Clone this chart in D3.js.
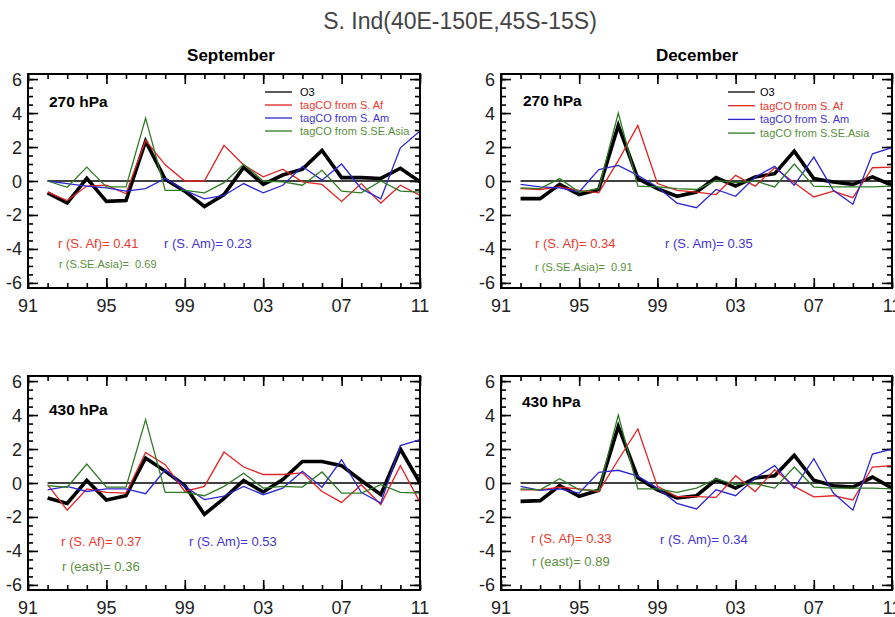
<!DOCTYPE html>
<html lang="en">
<head>
<meta charset="UTF-8">
<title>S. Ind tagCO and O3</title>
<style>
  body { margin: 0; background: #fff; }
  svg text { font-family: "Liberation Sans", Arial, Helvetica, sans-serif; }
</style>
</head>
<body>
<div id="my_dataviz"></div>
<script src="https://d3js.org/d3.v7.min.js"></script>
<script>

// ---------------------------//
//       DATA                 //
// ---------------------------//

var years = [1992, 1993, 1994, 1995, 1996, 1997, 1998, 1999, 2000, 2001,
             2002, 2003, 2004, 2005, 2006, 2007, 2008, 2009, 2010, 2011];

var seriesNames = ["O3", "tagCO from S. Af", "tagCO from S. Am", "tagCO from S.SE.Asia"];

var xTickYears  = [1991, 1995, 1999, 2003, 2007, 2011];
var xTickLabels = ["91", "95", "99", "03", "07", "11"];
var yTickValues = [-6, -4, -2, 0, 2, 4, 6];
var yTickLabels = ["-6", "-4", "-2", "0", "2", "4", "6"];

// September, 270 hPa
var sep270_o3   = [-0.7, -1.3, 0.15, -1.2, -1.15, 2.35, 0.1, -0.6, -1.5, -0.8, 0.8, -0.2, 0.35, 0.7, 1.8, 0.2, 0.2, 0.15, 0.75, -0.05];
var sep270_af   = [-0.65, -1.15, -0.3, -0.25, -0.75, 2.4, 0.95, 0.0, 0.0, 2.1, 0.95, 0.25, 0.7, -0.05, -0.2, -1.2, -0.15, -1.3, -0.25, -0.85];
var sep270_am   = [0.0, -0.15, -0.3, -0.4, -0.6, -0.45, 0.15, -0.55, -1.05, -0.85, -0.15, -0.7, -0.25, 0.85, 0.05, 1.0, -0.45, -1.05, 1.95, 2.95];
var sep270_asia = [0.0, -0.37, 0.82, -0.35, -0.35, 3.7, -0.55, -0.55, -0.7, -0.1, 0.98, 0.0, -0.05, -0.25, 0.63, -0.6, -0.7, 0.0, -0.6, -0.65];

// December, 270 hPa
var dec270_o3   = [-1.04, -1.04, -0.2, -0.8, -0.5, 3.27, 0.14, -0.45, -0.9, -0.65, 0.2, -0.3, 0.24, 0.43, 1.76, 0.14, -0.06, -0.2, 0.24, -0.25];
var dec270_af   = [-0.45, -0.5, -0.35, -0.55, -0.7, 1.2, 3.27, -0.15, -0.55, -0.65, -0.8, 0.33, -0.3, 0.78, -0.1, -0.94, -0.6, -0.98, 0.78, 0.82];
var dec270_am   = [-0.2, -0.35, -0.4, -0.65, 0.67, 0.92, 0.33, -0.35, -1.3, -1.57, -0.5, -0.9, 0.24, 0.86, -0.25, 1.41, -0.55, -1.37, 1.6, 1.96];
var dec270_asia = [-0.4, -0.45, 0.14, -0.65, -0.45, 4.0, -0.3, -0.35, -0.45, -0.5, 0.04, -0.1, 0.0, -0.35, 1.0, -0.3, -0.35, -0.35, -0.35, -0.3];

// September, 430 hPa
var sep430_o3   = [-0.88, -1.2, 0.15, -1.0, -0.75, 1.47, 0.7, -0.15, -1.85, -0.9, 0.15, -0.53, 0.2, 1.27, 1.27, 1.02, 0.15, -0.68, 2.0, 0.0];
var sep430_af   = [-0.1, -1.6, -0.35, -0.55, -0.6, 1.8, 1.08, -0.5, -0.2, 1.82, 0.94, 0.5, 0.5, 0.6, -0.5, -1.14, -0.1, -1.27, 1.02, -1.14];
var sep430_am   = [-0.4, -0.2, -0.5, -0.35, -0.35, -0.63, 0.78, -0.2, -0.98, -0.78, -0.2, -0.69, -0.3, 0.69, -0.25, 1.37, -0.55, -1.18, 2.2, 2.55];
var sep430_east = [-0.15, -0.25, 1.12, -0.24, -0.24, 3.73, -0.55, -0.55, -0.75, -0.2, 0.57, -0.3, -0.2, -0.24, 0.65, -0.6, -0.6, -0.1, -0.55, -0.6];

// December, 430 hPa
var dec430_o3   = [-1.08, -1.04, -0.16, -0.78, -0.43, 3.33, 0.3, -0.4, -0.88, -0.75, 0.2, -0.3, 0.3, 0.43, 1.63, 0.16, -0.16, -0.24, 0.35, -0.3];
var dec430_af   = [-0.4, -0.4, -0.25, -0.35, -0.5, 1.37, 3.18, -0.2, -0.8, -0.8, -0.85, 0.43, -0.5, 0.78, -0.2, -0.82, -0.75, -1.0, 0.94, 1.02];
var dec430_am   = [-0.2, -0.43, -0.35, -0.59, 0.63, 0.75, 0.4, -0.3, -1.2, -1.53, -0.4, -0.75, 0.3, 1.02, -0.3, 1.43, -0.59, -1.6, 1.7, 2.0];
var dec430_east = [-0.35, -0.4, 0.25, -0.4, -0.43, 4.0, -0.35, -0.35, -0.55, -0.3, 0.24, -0.1, -0.04, -0.3, 0.94, -0.24, -0.3, -0.3, -0.3, -0.35];

// correlation labels
var sep270_r = ["r (S. Af)= 0.41", "r (S. Am)= 0.23", "r (S.SE.Asia)=  0.69"];
var dec270_r = ["r (S. Af)= 0.34", "r (S. Am)= 0.35", "r (S.SE.Asia)=  0.91"];
var sep430_r = ["r (S. Af)= 0.37", "r (S. Am)= 0.53", "r (east)= 0.36"];
var dec430_r = ["r (S. Af)= 0.33", "r (S. Am)= 0.34", "r (east)= 0.89"];

// ---------------------------//
//       LAYOUT               //
// ---------------------------//

var lineColors = ["#000000", "#e02424", "#2d27d2", "#2f7a25"];
var textColors = ["#000000", "#e8392f", "#4234d6", "#5a9040"];

var panels = [
  { level: "270 hPa", left: 28,  top: 74,  width: 392, series: [sep270_o3, sep270_af, sep270_am, sep270_asia], r: sep270_r,
    levelPos: [49, 107], rPos: [[58, 248], [164, 248], [59, 268]], rSize: [13, 13, 11], legend: [265, 300, 92, 13] },
  { level: "270 hPa", left: 501, top: 74,  width: 391, series: [dec270_o3, dec270_af, dec270_am, dec270_asia], r: dec270_r,
    levelPos: [523, 106], rPos: [[535, 248], [665, 248], [535, 271]], rSize: [13, 13, 11], legend: [728, 760, 92, 13.7] },
  { level: "430 hPa", left: 28,  top: 376, width: 392, series: [sep430_o3, sep430_af, sep430_am, sep430_east], r: sep430_r,
    levelPos: [49, 415], rPos: [[61, 546], [189, 546], [62, 571]], rSize: [13, 13, 13], legend: null },
  { level: "430 hPa", left: 501, top: 376, width: 391, series: [dec430_o3, dec430_af, dec430_am, dec430_east], r: dec430_r,
    levelPos: [522, 407], rPos: [[531, 543], [660, 544], [532, 566]], rSize: [13, 13, 13], legend: null }
];

var panelHeight = 214;

var svg = d3.select("#my_dataviz")
  .append("svg")
    .attr("width", 895)
    .attr("height", 617)
    .style("background", "#fff");

// main title
svg.append("text")
  .attr("x", 460)
  .attr("y", 29)
  .attr("text-anchor", "middle")
  .style("font-size", "23px")
  .style("fill", "#444")
  .text("S. Ind(40E-150E,45S-15S)");

// month titles
svg.append("text")
  .attr("x", 231).attr("y", 61)
  .attr("text-anchor", "middle")
  .style("font-size", "17px").style("font-weight", "bold")
  .text("September");
svg.append("text")
  .attr("x", 697).attr("y", 61)
  .attr("text-anchor", "middle")
  .style("font-size", "17px").style("font-weight", "bold")
  .text("December");

panels.forEach(function(p) {

  var w = p.width, h = panelHeight;

  var x = d3.scaleLinear().domain([1991, 2011]).range([0, w]);
  var y = d3.scaleLinear().domain([-6.3, 6.3]).range([h, 0]);

  var g = svg.append("g")
    .attr("transform", "translate(" + p.left + "," + p.top + ")");

  // ---- ticks (inward, all four sides) ----
  var allYears = [1991].concat(years);
  var yMinor = d3.range(-6, 6.01, 0.5);

  function tickAxis(axis, tx, ty) {
    var a = g.append("g")
      .attr("transform", "translate(" + tx + "," + ty + ")")
      .call(axis);
    a.select(".domain").remove();
    a.selectAll("line").attr("stroke", "#000").attr("stroke-width", 1.6);
  }
  tickAxis(d3.axisBottom(x).tickValues(allYears).tickSize(-5).tickFormat(""), 0, h);
  tickAxis(d3.axisBottom(x).tickValues(xTickYears).tickSize(-10).tickFormat(""), 0, h);
  tickAxis(d3.axisTop(x).tickValues(allYears).tickSize(-5).tickFormat(""), 0, 0);
  tickAxis(d3.axisTop(x).tickValues(xTickYears).tickSize(-10).tickFormat(""), 0, 0);
  tickAxis(d3.axisLeft(y).tickValues(yMinor).tickSize(-5).tickFormat(""), 0, 0);
  tickAxis(d3.axisLeft(y).tickValues(yTickValues).tickSize(-10).tickFormat(""), 0, 0);
  tickAxis(d3.axisRight(y).tickValues(yMinor).tickSize(-5).tickFormat(""), w, 0);
  tickAxis(d3.axisRight(y).tickValues(yTickValues).tickSize(-10).tickFormat(""), w, 0);

  // tick labels
  g.selectAll(".xlab")
    .data(xTickYears)
    .enter()
    .append("text")
      .attr("x", function(d) { return x(d); })
      .attr("y", h + 24)
      .attr("text-anchor", "middle")
      .style("font-size", "18px")
      .style("fill", "#222")
      .text(function(d, i) { return xTickLabels[i]; });

  g.selectAll(".ylab")
    .data(yTickValues)
    .enter()
    .append("text")
      .attr("x", -6)
      .attr("y", function(d) { return y(d) + 6.5; })
      .attr("text-anchor", "end")
      .style("font-size", "18px")
      .style("fill", "#222")
      .text(function(d, i) { return yTickLabels[i]; });

  // zero line
  g.append("line")
    .attr("x1", x(years[0])).attr("x2", x(years[years.length - 1]))
    .attr("y1", y(0)).attr("y2", y(0))
    .attr("stroke", "#000").attr("stroke-width", 1.6);

  // series lines: O3 first (thick), tagCO on top
  var line = d3.line()
    .x(function(d, i) { return x(years[i]); })
    .y(function(d) { return y(d); });

  p.series.forEach(function(s, k) {
    g.append("path")
      .datum(s)
      .attr("fill", "none")
      .attr("stroke", lineColors[k])
      .attr("stroke-width", k === 0 ? 3.6 : 1.3)
      .attr("stroke-linejoin", "miter")
      .attr("d", line);
  });

  // frame
  g.append("rect")
    .attr("width", w).attr("height", h)
    .attr("fill", "none")
    .attr("stroke", "#000")
    .attr("stroke-width", 2);

  // pressure level label
  svg.append("text")
    .attr("x", p.levelPos[0]).attr("y", p.levelPos[1])
    .style("font-size", "15.5px").style("font-weight", "bold")
    .text(p.level);

  // correlations
  p.r.forEach(function(t, k) {
    svg.append("text")
      .attr("x", p.rPos[k][0]).attr("y", p.rPos[k][1])
      .style("font-size", p.rSize[k] + "px")
      .style("white-space", "pre")
      .style("fill", textColors[k + 1])
      .text(t);
  });

  // legend
  if (p.legend) {
    var L = p.legend;
    seriesNames.forEach(function(name, k) {
      var cy = L[2] + k * L[3];
      svg.append("line")
        .attr("x1", L[0]).attr("x2", L[0] + 27)
        .attr("y1", cy).attr("y2", cy)
        .attr("stroke", lineColors[k]).attr("stroke-width", 1.3);
      svg.append("text")
        .attr("x", L[1]).attr("y", cy + 4)
        .style("font-size", "11px")
        .style("fill", textColors[k])
        .text(name);
    });
  }
});

</script>
</body>
</html>
